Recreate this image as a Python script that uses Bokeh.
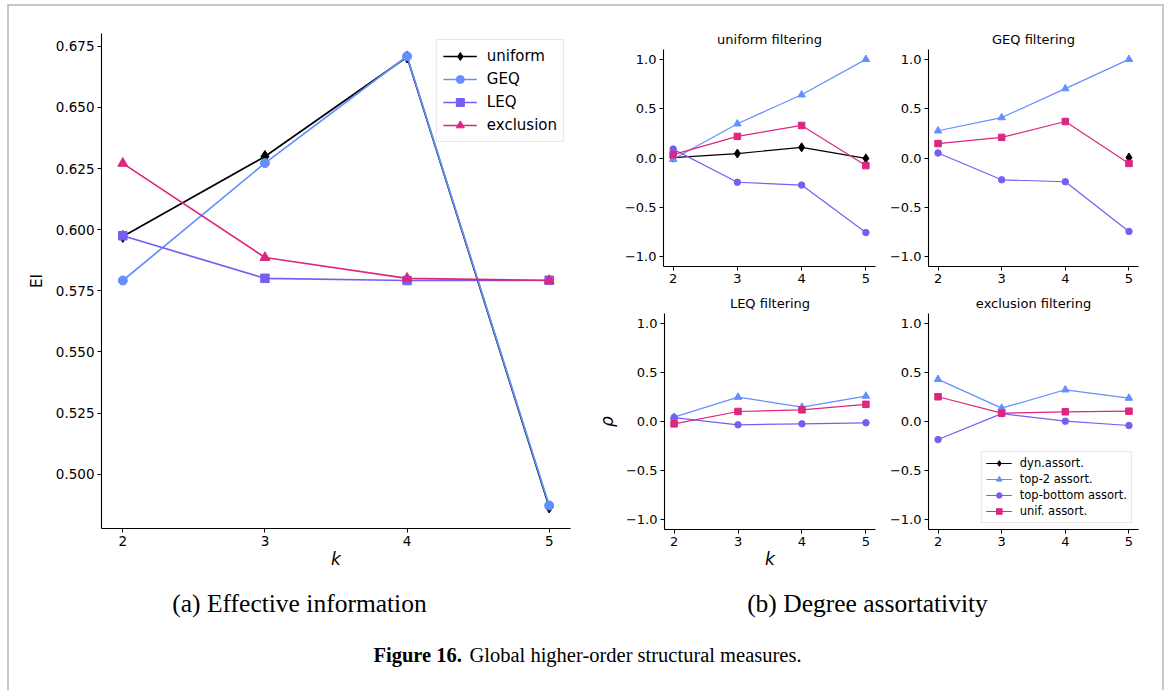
from bokeh.plotting import figure
from bokeh.layouts import row, column
from bokeh.models import (Range1d, FixedTicker, Legend, LegendItem, Label,
                          CustomJSTickFormatter, NumeralTickFormatter, InlineStyleSheet)
from bokeh.embed import file_html
from bokeh.resources import INLINE

nan = float("nan")

# ---------------- data ----------------
k = [2, 3, 4, 5]
k_ticks = [2, 3, 4, 5]

# (a) effective information
ei_uniform = [0.5972, 0.6299, 0.6706, 0.4866]
ei_geq = [0.5792, 0.6272, 0.6709, 0.4872]
ei_leq = [0.5975, 0.5801, 0.5792, 0.5793]
ei_exclusion = [0.6271, 0.5886, 0.5801, 0.5792]
ei_ticks = [0.500, 0.525, 0.550, 0.575, 0.600, 0.625, 0.650, 0.675]
ei_labels = ["uniform", "GEQ", "LEQ", "exclusion"]

# (b) degree assortativity
rho_ticks = [-1.0, -0.5, 0.0, 0.5, 1.0]
assort_labels = ["dyn.assort.", "top-2 assort.", "top-bottom assort.", "unif. assort."]
panel_titles = ["uniform filtering", "GEQ filtering", "LEQ filtering", "exclusion filtering"]

uni_dyn = [0.003, 0.045, 0.108, -0.004]
uni_top2 = [-0.012, 0.347, 0.641, 1.0]
uni_topbot = [0.090, -0.246, -0.274, -0.756]
uni_unif = [0.034, 0.219, 0.330, -0.077]

geq_dyn = [nan, nan, nan, 0.005]
geq_top2 = [0.276, 0.410, 0.703, 1.0]
geq_topbot = [0.051, -0.221, -0.241, -0.745]
geq_unif = [0.146, 0.209, 0.370, -0.055]

leq_dyn = [nan, nan, nan, nan]
leq_top2 = [0.044, 0.248, 0.146, 0.259]
leq_topbot = [0.040, -0.034, -0.024, -0.013]
leq_unif = [-0.024, 0.102, 0.119, 0.175]

exc_dyn = [nan, nan, nan, nan]
exc_top2 = [0.429, 0.136, 0.323, 0.238]
exc_topbot = [-0.184, 0.080, 0.003, -0.041]
exc_unif = [0.252, 0.085, 0.099, 0.105]

# ---------------- styles ----------------
C_BLACK = "black"
C_BLUE = "#648FFF"
C_PURPLE = "#785EF0"
C_MAGENTA = "#DC267F"
FONT = "DejaVu Sans"


def style_axes(p, fs):
    p.outline_line_color = None
    p.grid.visible = False
    p.background_fill_color = "white"
    p.border_fill_color = "white"
    for ax in p.axis:
        ax.axis_line_color = "black"
        ax.axis_line_width = 1.1
        ax.major_tick_line_color = "black"
        ax.minor_tick_line_color = None
        ax.major_tick_out = 4
        ax.major_tick_in = 0
        ax.major_label_text_color = "black"
        ax.major_label_text_font = FONT
        ax.major_label_text_font_size = fs
        ax.major_label_standoff = 3
        ax.axis_label_text_font = FONT
        ax.axis_label_text_color = "black"
        ax.axis_label_standoff = 4


# ---------------- (a) left plot ----------------
pa = figure(width=593, height=578, x_range=Range1d(1.85, 5.15),
            y_range=Range1d(0.4778, 0.6802), output_backend="svg",
            toolbar_location=None, min_border_left=101, min_border_right=23,
            min_border_top=33, min_border_bottom=50)
style_axes(pa, "13.5px")
pa.xaxis.ticker = FixedTicker(ticks=k_ticks)
pa.yaxis.ticker = FixedTicker(ticks=ei_ticks)
pa.yaxis.formatter = NumeralTickFormatter(format="0.000")
pa.yaxis.axis_label = "EI"
pa.yaxis.axis_label_text_font_size = "15px"
pa.yaxis.axis_label_text_font_style = "normal"
pa.yaxis.axis_label_standoff = 7
pa.xaxis.axis_label = "k"
pa.xaxis.axis_label_text_font_size = "17px"
pa.xaxis.axis_label_text_font_style = "italic"
pa.xaxis.axis_label_standoff = 0

items = []
series_a = [(ei_uniform, C_BLACK, "diamond", 12), (ei_geq, C_BLUE, "circle", 9),
            (ei_leq, C_PURPLE, "square", 8.5), (ei_exclusion, C_MAGENTA, "triangle", 10)]
for (vals, col, mk, sz), lab in zip(series_a, ei_labels):
    l = pa.line(k, vals, line_color=col, line_width=1.7)
    s = pa.scatter(k, vals, marker=mk, size=sz, fill_color=col, line_color=col)
    items.append(LegendItem(label=lab, renderers=[l, s]))

leg_a = Legend(items=items, location="top_right", label_text_font=FONT,
               label_text_font_size="15px", label_text_color="black",
               border_line_color="#d0d0d0", border_line_width=1,
               background_fill_alpha=0.85, glyph_width=34, glyph_height=20,
               label_height=20, spacing=3, padding=6, margin=6, label_standoff=10)
pa.add_layout(leg_a)

# ---------------- (b) four panels ----------------
panel_data = [
    (uni_dyn, uni_top2, uni_topbot, uni_unif),
    (geq_dyn, geq_top2, geq_topbot, geq_unif),
    (leq_dyn, leq_top2, leq_topbot, leq_unif),
    (exc_dyn, exc_top2, exc_topbot, exc_unif),
]
geoms = [
    dict(width=293, height=290, min_border_left=70, min_border_right=11, min_border_top=49, min_border_bottom=24),
    dict(width=282, height=290, min_border_left=40, min_border_right=30, min_border_top=49, min_border_bottom=24),
    dict(width=293, height=288, min_border_left=70, min_border_right=11, min_border_top=22, min_border_bottom=49),
    dict(width=282, height=288, min_border_left=40, min_border_right=30, min_border_top=22, min_border_bottom=49),
]
styles_b = [(C_BLACK, "diamond", 9), (C_BLUE, "triangle", 7.5),
            (C_PURPLE, "circle", 6.5), (C_MAGENTA, "square", 6.5)]

panels = []
for i, (title, data, g) in enumerate(zip(panel_titles, panel_data, geoms)):
    p = figure(title=title, x_range=Range1d(1.85, 5.15), y_range=Range1d(-1.1, 1.1),
               output_backend="svg", toolbar_location=None, **g)
    style_axes(p, "13px")
    p.title.align = "center"
    p.title.text_font = FONT
    p.title.text_font_size = "13px"
    p.title.text_font_style = "normal"
    p.title.text_color = "black"
    p.title.standoff = 6
    p.xaxis.ticker = FixedTicker(ticks=k_ticks)
    p.yaxis.ticker = FixedTicker(ticks=rho_ticks)
    p.yaxis.formatter = CustomJSTickFormatter(code="return tick.toFixed(1).replace('-', '\\u2212');")
    its = []
    for vals, (col, mk, sz), lab in zip(data, styles_b, assort_labels):
        l = p.line(k, vals, line_color=col, line_width=1.2)
        s = p.scatter(k, vals, marker=mk, size=sz, fill_color=col, line_color=col)
        its.append(LegendItem(label=lab, renderers=[l, s]))
    if i == 2:
        p.yaxis.axis_label = "\u03c1"
        p.yaxis.axis_label_text_font_size = "17px"
        p.yaxis.axis_label_text_font_style = "italic"
        p.yaxis.axis_label_standoff = 6
        p.xaxis.axis_label = "k"
        p.xaxis.axis_label_text_font_size = "17px"
        p.xaxis.axis_label_text_font_style = "italic"
        p.xaxis.axis_label_standoff = 0
    if i == 3:
        leg = Legend(items=its, location="bottom_right", label_text_font=FONT,
                     label_text_font_size="11.5px", label_text_color="black",
                     border_line_color="#d0d0d0", border_line_width=1,
                     background_fill_alpha=0.85, glyph_width=26, glyph_height=14,
                     label_height=14, spacing=2, padding=4, margin=6, label_standoff=8)
        p.add_layout(leg)
    panels.append(p)

# ---------------- captions ----------------
pc = figure(width=1168, height=112, x_range=Range1d(0, 1168), y_range=Range1d(0, 112),
            output_backend="svg", toolbar_location=None, min_border=0)
pc.axis.visible = False
pc.grid.visible = False
pc.outline_line_color = None
pc.background_fill_color = "white"
pc.border_fill_color = "white"
SERIF = "Liberation Serif"
pc.add_layout(Label(x=299, y=87, text="(a) Effective information", text_font=SERIF,
                    text_font_size="25.5px", text_align="center", text_baseline="middle",
                    text_color="black"))
pc.add_layout(Label(x=867, y=87, text="(b) Degree assortativity", text_font=SERIF,
                    text_font_size="25.5px", text_align="center", text_baseline="middle",
                    text_color="black"))
pc.add_layout(Label(x=373, y=36, text="Figure 16.", text_font=SERIF, text_font_size="20.5px",
                    text_font_style="bold", text_align="left", text_baseline="middle",
                    text_color="black"))
pc.add_layout(Label(x=469, y=36, text="Global higher-order structural measures.", text_font=SERIF,
                    text_font_size="20.5px", text_align="left", text_baseline="middle",
                    text_color="black"))

border_css = InlineStyleSheet(css="""
:host { position: relative; }
:host::after { content: ''; position: absolute; left: 7px; top: 4px; width: 1157px; height: 686px;
  border: 2px solid #c8c8c8; border-bottom: none; box-sizing: border-box; pointer-events: none; z-index: 10; }
""")

layout = column(
    row(pa, column(row(panels[0], panels[1]), row(panels[2], panels[3]))),
    pc,
    stylesheets=[border_css],
)

open("out.html", "w").write(file_html(layout, INLINE))
